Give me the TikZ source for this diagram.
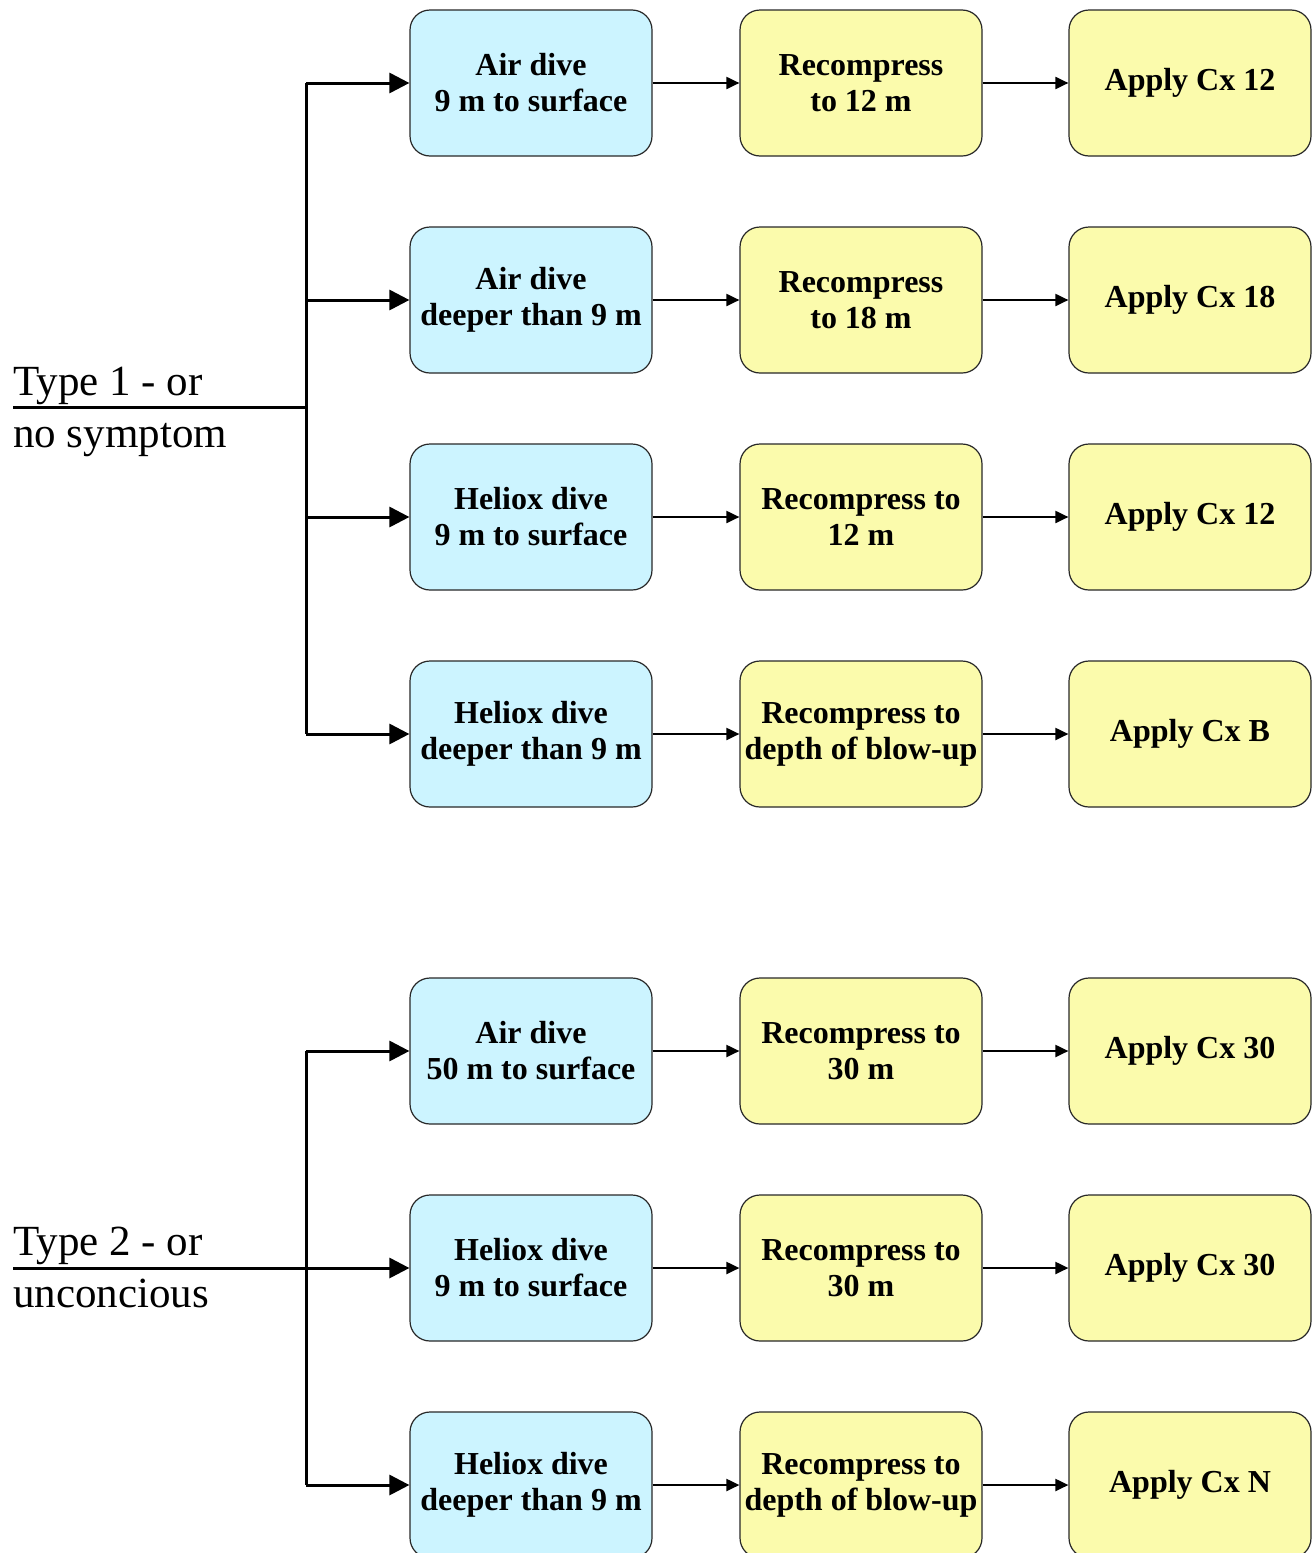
\documentclass[tikz,border=0pt]{standalone}
\usepackage{fontspec}
\setmainfont{Liberation Serif}
\usetikzlibrary{arrows.meta}
\definecolor{diveblue}{RGB}{204,244,255}
\definecolor{stepyellow}{RGB}{251,251,172}
\definecolor{boxline}{RGB}{40,40,40}
\begin{document}
\begin{tikzpicture}[x=1pt,y=-1pt,
  box/.style={draw=boxline,line width=1.2pt,rounded corners=20pt,minimum width=242pt,minimum height=146pt,inner sep=0pt,align=center,font=\fontsize{32}{36}\selectfont\bfseries},
  divebox/.style={box,fill=diveblue},
  actbox/.style={box,fill=stepyellow},
  lbl/.style={anchor=base west,inner sep=0pt,font=\fontsize{43}{52}\selectfont},
  thick arrow/.style={line width=3pt,-{Triangle[length=20pt,width=20pt]}},
  thin arrow/.style={line width=2pt,-{Triangle[length=13pt,width=12pt]}},
  trunk/.style={line width=3pt}]
\useasboundingbox (0,0) rectangle (1316,1553);
\fill[white] (0,0) rectangle (1316,1553);

% group 1
\node[divebox] (a1) at (531,83) {Air dive\\9 m to surface};
\node[actbox] (b1) at (861,83) {Recompress\\to 12 m};
\node[actbox] (c1) at (1190,83) {Apply Cx 12};
\node[divebox] (a2) at (531,300) {Air dive\\deeper than 9 m};
\node[actbox] (b2) at (861,300) {Recompress\\to 18 m};
\node[actbox] (c2) at (1190,300) {Apply Cx 18};
\node[divebox] (a3) at (531,517) {Heliox dive\\9 m to surface};
\node[actbox] (b3) at (861,517) {Recompress to\\12 m};
\node[actbox] (c3) at (1190,517) {Apply Cx 12};
\node[divebox] (a4) at (531,734) {Heliox dive\\deeper than 9 m};
\node[actbox] (b4) at (861,734) {Recompress to\\depth of blow-up};
\node[actbox] (c4) at (1190,734) {Apply Cx B};

% group 2
\node[divebox] (a5) at (531,1051) {Air dive\\50 m to surface};
\node[actbox] (b5) at (861,1051) {Recompress to\\30 m};
\node[actbox] (c5) at (1190,1051) {Apply Cx 30};
\node[divebox] (a6) at (531,1268) {Heliox dive\\9 m to surface};
\node[actbox] (b6) at (861,1268) {Recompress to\\30 m};
\node[actbox] (c6) at (1190,1268) {Apply Cx 30};
\node[divebox] (a7) at (531,1485) {Heliox dive\\deeper than 9 m};
\node[actbox] (b7) at (861,1485) {Recompress to\\depth of blow-up};
\node[actbox] (c7) at (1190,1485) {Apply Cx N};

\foreach \i in {1,...,7}{
  \draw[thin arrow] (a\i.east) -- (b\i.west);
  \draw[thin arrow] (b\i.east) -- (c\i.west);
}

% labels
\node[lbl] (t1a) at (13,395) {Type 1 - or};
\node[lbl] (t1b) at (13,447) {no symptom};
\node[lbl] (t2a) at (13,1255) {Type 2 - or};
\node[lbl] (t2b) at (13,1307) {unconcious};

% group 1 tree
\coordinate (s1) at (13,407);
\coordinate (j1) at (306,407);
\coordinate (top1) at (306,83);
\coordinate (bot1) at (306,734);
\draw[trunk] (s1) -- (j1);
\draw[trunk] (top1) -- (bot1);
\draw[thick arrow] (top1) -- (a1.west);
\draw[thick arrow] (306,300) -- (a2.west);
\draw[thick arrow] (306,517) -- (a3.west);
\draw[thick arrow] (bot1) -- (a4.west);

% group 2 tree
\coordinate (s2) at (13,1268);
\coordinate (top2) at (306,1051);
\coordinate (bot2) at (306,1485);
\draw[trunk] (top2) -- (bot2);
\draw[thick arrow] (top2) -- (a5.west);
\draw[thick arrow] (s2) -- (a6.west);
\draw[thick arrow] (bot2) -- (a7.west);
\end{tikzpicture}
\end{document}
